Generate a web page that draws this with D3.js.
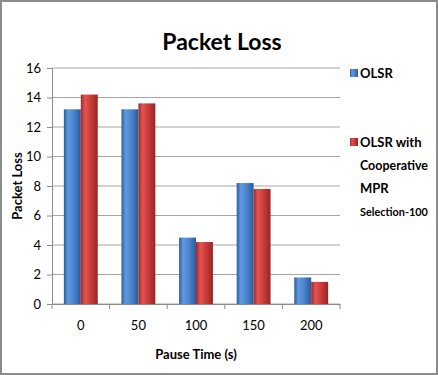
<!DOCTYPE html>
<html>
<head>
<meta charset="utf-8">
<script src="https://cdn.jsdelivr.net/npm/d3@7"></script>
<style>
body { margin: 0; background: #fff; }
text { font-family: Lato, "Open Sans", sans-serif; fill: #000; }
</style>
</head>
<body>
<svg width="438" height="375"></svg>
<script>
// data
const pauseTimes = ["0", "50", "100", "150", "200"]
const seriesNames = ["OLSR", "OLSR with Cooperative MPR Selection-100"]
const olsr = [13.2, 13.2, 4.5, 8.2, 1.8]
const coop = [14.2, 13.6, 4.2, 7.8, 1.5]
const yTicks = [0, 2, 4, 6, 8, 10, 12, 14, 16]

const svg = d3.select("svg")

// frame
svg.append("rect")
	.attr("x", 1).attr("y", 1)
	.attr("width", 436).attr("height", 373)
	.attr("fill", "#fff")
	.attr("stroke", "#8c8c8c")
	.attr("stroke-width", 2)

// gradients for the bars
const defs = svg.append("defs")
const grads = [
	{id: "gBlue", stops: ["#2f5f9e", "#5f9ae0", "#4a83cc", "#2d5a98"]},
	{id: "gRed", stops: ["#9e2a28", "#e05552", "#c83a37", "#962624"]}
]
grads.forEach(g => {
	const lg = defs.append("linearGradient").attr("id", g.id)
		.attr("x1", 0).attr("x2", 1).attr("y1", 0).attr("y2", 0)
	lg.append("stop").attr("offset", "0%").attr("stop-color", g.stops[0])
	lg.append("stop").attr("offset", "25%").attr("stop-color", g.stops[1])
	lg.append("stop").attr("offset", "60%").attr("stop-color", g.stops[2])
	lg.append("stop").attr("offset", "100%").attr("stop-color", g.stops[3])
})

const plotL = 52, plotR = 340, plotT = 68, plotB = 304

const x = d3.scaleBand()
	.domain(pauseTimes)
	.range([plotL, plotR])

const x1 = d3.scaleBand()
	.domain([0, 1])
	.range([0, x.bandwidth()])
	.paddingOuter(0.7)

const y = d3.scaleLinear()
	.domain([0, 16])
	.range([plotB, plotT])

// gridlines
svg.append("g")
	.selectAll("line")
	.data(yTicks)
	.enter()
	.append("line")
	.attr("x1", plotL).attr("x2", plotR)
	.attr("y1", d => y(d)).attr("y2", d => y(d))
	.attr("stroke", "#a6a6a6")
	.attr("stroke-width", 1)

// y axis
const yAxis = svg.append("g")
	.attr("transform", `translate(${plotL},0)`)
	.call(d3.axisLeft(y).tickValues(yTicks).tickSize(5).tickPadding(6))
yAxis.select(".domain").attr("stroke", "#8c8c8c")
yAxis.selectAll(".tick line").attr("stroke", "#8c8c8c")
yAxis.selectAll("text").style("font-size", "13px").attr("fill", "#222")

// x axis
const xAxis = svg.append("g")
	.attr("transform", `translate(0,${plotB})`)
	.call(d3.axisBottom(x).tickSize(0).tickPadding(17))
xAxis.select(".domain").attr("stroke", "#8c8c8c")
xAxis.selectAll("text").style("font-size", "13px").attr("fill", "#222")
// tick marks between categories
svg.append("g")
	.selectAll("line")
	.data(d3.range(pauseTimes.length + 1))
	.enter()
	.append("line")
	.attr("x1", i => plotL + i * x.step())
	.attr("x2", i => plotL + i * x.step())
	.attr("y1", plotB).attr("y2", plotB + 5)
	.attr("stroke", "#8c8c8c")

// bars
const groups = svg.selectAll("g.cat")
	.data(pauseTimes)
	.enter()
	.append("g")
	.attr("class", "cat")
	.attr("transform", d => `translate(${x(d)},0)`)

groups.append("rect")
	.attr("x", x1(0))
	.attr("width", x1.bandwidth())
	.attr("y", (d, i) => y(olsr[i]))
	.attr("height", (d, i) => y(0) - y(olsr[i]))
	.attr("fill", "url(#gBlue)")

groups.append("rect")
	.attr("x", x1(1))
	.attr("width", x1.bandwidth())
	.attr("y", (d, i) => y(coop[i]))
	.attr("height", (d, i) => y(0) - y(coop[i]))
	.attr("fill", "url(#gRed)")

// title
svg.append("text")
	.attr("x", 222).attr("y", 50)
	.attr("text-anchor", "middle")
	.style("font-size", "23px")
	.style("font-weight", "bold")
	.text("Packet Loss")

// axis titles
svg.append("text")
	.attr("transform", `translate(22,${(plotT + plotB) / 2}) rotate(-90)`)
	.attr("text-anchor", "middle")
	.style("font-size", "13px")
	.style("font-weight", "bold")
	.text("Packet Loss")

svg.append("text")
	.attr("x", (plotL + plotR) / 2).attr("y", 359)
	.attr("text-anchor", "middle")
	.style("font-size", "13px")
	.style("font-weight", "bold")
	.text("Pause Time (s)")

// legend
const legendLines = [["OLSR"], ["OLSR with", "Cooperative", "MPR", "Selection-100"]]
const legendY = [73, 142]
const legendFill = ["url(#gBlue)", "url(#gRed)"]
legendLines.forEach((lines, k) => {
	svg.append("rect")
		.attr("x", 350).attr("y", legendY[k] - 4)
		.attr("width", 8).attr("height", 8)
		.attr("fill", legendFill[k])
	lines.forEach((l, j) => {
		const t = svg.append("text")
			.attr("x", 360).attr("y", legendY[k] + 5 + j * 23)
			.style("font-size", "13px")
			.style("font-weight", "bold")
			.text(l)
		// shrink lines that would run past the frame
		const w = t.node().getComputedTextLength()
		if (w > 68) {
			t.style("font-size", (13 * 68 / w).toFixed(2) + "px")
		}
	})
})
</script>
</body>
</html>
